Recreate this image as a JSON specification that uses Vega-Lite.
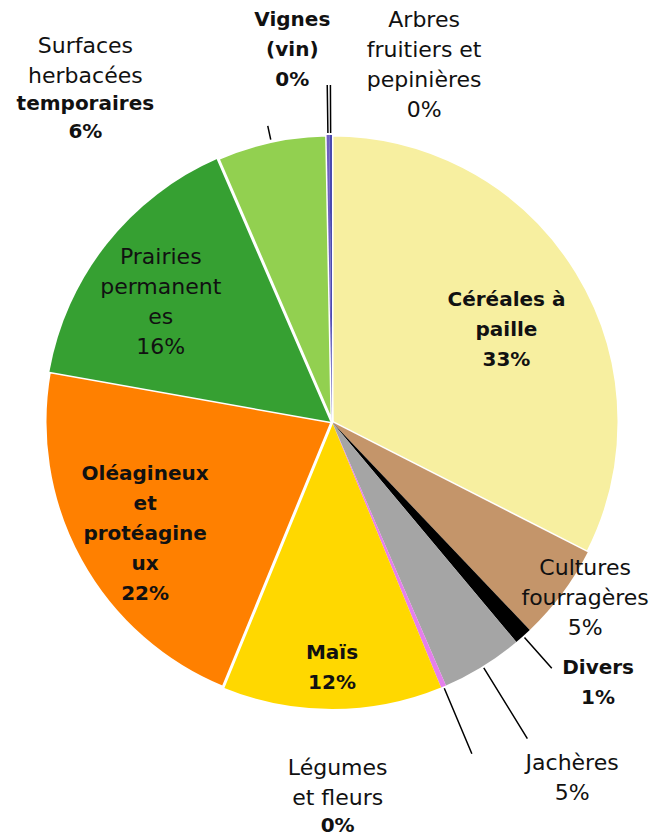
{
  "$schema": "https://vega.github.io/schema/vega-lite/v6.json",
  "width": 648,
  "height": 828,
  "autosize": "none",
  "padding": {"left": 8, "top": 8, "right": 0, "bottom": 0},
  "background": "white",
  "config": {"view": {"stroke": null}},
  "data": {
    "values": [
      {"rank": 1, "name": "Céréales à paille", "value": 32.5, "label": ["Céréales à", "paille", "33%"]},
      {"rank": 2, "name": "Cultures fourragères", "value": 5.4, "label": ["Cultures", "fourragères", "5%"]},
      {"rank": 3, "name": "Divers", "value": 1.0, "label": ["Divers", "1%"]},
      {"rank": 4, "name": "Jachères", "value": 4.6, "label": ["Jachères", "5%"]},
      {"rank": 5, "name": "Légumes et fleurs", "value": 0.3, "label": ["Légumes", "et fleurs"], "labelBold": ["0%"]},
      {"rank": 6, "name": "Maïs", "value": 12.4, "label": ["Maïs", "12%"]},
      {"rank": 7, "name": "Oléagineux et protéagineux", "value": 21.6, "label": ["Oléagineux", "et", "protéagine", "ux", "22%"]},
      {"rank": 8, "name": "Prairies permanentes", "value": 15.7, "label": ["Prairies", "permanent", "es", "16%"]},
      {"rank": 9, "name": "Surfaces herbacées temporaires", "value": 6.2, "label": ["Surfaces", "herbacées"], "labelBold": ["temporaires", "6%"]},
      {"rank": 10, "name": "Vignes (vin)", "value": 0.15, "label": ["Vignes", "(vin)", "0%"]},
      {"rank": 11, "name": "Arbres fruitiers et pepinières", "value": 0.15, "label": ["Arbres", "fruitiers et", "pepinières", "0%"]}
    ]
  },
  "encoding": {
    "theta": {"field": "value", "type": "quantitative", "stack": true},
    "order": {"field": "rank", "type": "quantitative"}
  },
  "layer": [
    {
      "mark": {"type": "arc", "outerRadius": 287, "stroke": "white"},
      "encoding": {
        "color": {
          "field": "name", "type": "nominal", "legend": null,
          "scale": {
            "domain": ["Céréales à paille", "Cultures fourragères", "Divers", "Jachères", "Légumes et fleurs", "Maïs", "Oléagineux et protéagineux", "Prairies permanentes", "Surfaces herbacées temporaires", "Vignes (vin)", "Arbres fruitiers et pepinières"],
            "range": ["#F7EFA0", "#C4956A", "#000000", "#A5A5A5", "#E57FEC", "#FFD800", "#FF8000", "#36A032", "#92D050", "#7060C0", "#4A4AB0"]
          }
        },
        "strokeWidth": {"condition": {"test": "datum.rank === 1 || datum.rank === 7 || datum.rank === 9", "value": 3}, "value": 0}
      }
    },
    {
      "mark": {"type": "arc", "innerRadius": 289, "outerRadius": 337, "padAngle": 3, "fillOpacity": 0, "stroke": "black", "strokeWidth": 1.5},
      "encoding": {"strokeOpacity": {"condition": {"test": "datum.rank >= 10", "value": 1}, "value": 0}}
    },
    {
      "mark": {"type": "arc", "innerRadius": 289, "outerRadius": 303, "padAngle": 3, "fillOpacity": 0, "stroke": "black", "strokeWidth": 1.5},
      "encoding": {"strokeOpacity": {"condition": {"test": "datum.rank === 9", "value": 1}, "value": 0}}
    },
    {
      "mark": {"type": "arc", "innerRadius": 289, "outerRadius": 330, "padAngle": 3, "fillOpacity": 0, "stroke": "black", "strokeWidth": 1.5},
      "encoding": {"strokeOpacity": {"condition": {"test": "datum.rank === 3", "value": 1}, "value": 0}}
    },
    {
      "mark": {"type": "arc", "innerRadius": 289, "outerRadius": 372, "padAngle": 3, "fillOpacity": 0, "stroke": "black", "strokeWidth": 1.5},
      "encoding": {"strokeOpacity": {"condition": {"test": "datum.rank === 4", "value": 1}, "value": 0}}
    },
    {
      "mark": {"type": "arc", "innerRadius": 289, "outerRadius": 360, "padAngle": 3, "fillOpacity": 0, "stroke": "black", "strokeWidth": 1.5},
      "encoding": {"strokeOpacity": {"condition": {"test": "datum.rank === 5", "value": 1}, "value": 0}}
    },
    {
      "mark": {"type": "text", "radius": 213, "font": "DejaVu Sans", "fontSize": 20, "fontWeight": "bold", "lineHeight": 30, "align": "center", "baseline": "middle", "color": "#111111"},
      "encoding": {
        "theta": {"field": "value", "type": "quantitative", "stack": true, "bandPosition": 0.47},
        "text": {"condition": {"test": "datum.rank === 1", "field": "label", "type": "nominal"}, "value": ""}
      }
    },
    {
      "mark": {"type": "text", "radius": 292, "font": "DejaVu Sans", "fontSize": 22, "lineHeight": 30, "align": "center", "baseline": "middle", "color": "#111111"},
      "encoding": {
        "theta": {"field": "value", "type": "quantitative", "stack": true, "bandPosition": 0.15},
        "text": {"condition": {"test": "datum.rank === 2", "field": "label", "type": "nominal"}, "value": ""}
      }
    },
    {
      "mark": {"type": "text", "radius": 362, "dx": 25, "dy": -24, "font": "DejaVu Sans", "fontSize": 20, "fontWeight": "bold", "lineHeight": 30, "align": "center", "baseline": "middle", "color": "#111111"},
      "encoding": {
        "text": {"condition": {"test": "datum.rank === 3", "field": "label", "type": "nominal"}, "value": ""}
      }
    },
    {
      "mark": {"type": "text", "radius": 417, "font": "DejaVu Sans", "fontSize": 22, "lineHeight": 30, "align": "center", "baseline": "middle", "color": "#111111"},
      "encoding": {
        "theta": {"field": "value", "type": "quantitative", "stack": true, "bandPosition": 0.29},
        "text": {"condition": {"test": "datum.rank === 4", "field": "label", "type": "nominal"}, "value": ""}
      }
    },
    {
      "mark": {"type": "text", "radius": 375, "dx": -140, "font": "DejaVu Sans", "fontSize": 22, "lineHeight": 30, "align": "center", "baseline": "middle", "color": "#111111"},
      "encoding": {
        "text": {"condition": {"test": "datum.rank === 5", "field": "label", "type": "nominal"}, "value": ""}
      }
    },
    {
      "mark": {"type": "text", "radius": 375, "dx": -140, "dy": 58, "font": "DejaVu Sans", "fontSize": 20, "fontWeight": "bold", "lineHeight": 30, "align": "center", "baseline": "middle", "color": "#111111"},
      "encoding": {
        "text": {"condition": {"test": "datum.rank === 5", "field": "labelBold", "type": "nominal"}, "value": ""}
      }
    },
    {
      "mark": {"type": "text", "radius": 231, "font": "DejaVu Sans", "fontSize": 20, "fontWeight": "bold", "lineHeight": 30, "align": "center", "baseline": "middle", "color": "#111111"},
      "encoding": {
        "text": {"condition": {"test": "datum.rank === 6", "field": "label", "type": "nominal"}, "value": ""}
      }
    },
    {
      "mark": {"type": "text", "radius": 194, "font": "DejaVu Sans", "fontSize": 20, "fontWeight": "bold", "lineHeight": 30, "align": "center", "baseline": "middle", "color": "#111111"},
      "encoding": {
        "theta": {"field": "value", "type": "quantitative", "stack": true, "bandPosition": 0.67},
        "text": {"condition": {"test": "datum.rank === 7", "field": "label", "type": "nominal"}, "value": ""}
      }
    },
    {
      "mark": {"type": "text", "radius": 238, "font": "DejaVu Sans", "fontSize": 22, "lineHeight": 30, "align": "center", "baseline": "middle", "color": "#111111"},
      "encoding": {
        "theta": {"field": "value", "type": "quantitative", "stack": true, "bandPosition": 0.6},
        "text": {"condition": {"test": "datum.rank === 8", "field": "label", "type": "nominal"}, "value": ""}
      }
    },
    {
      "mark": {"type": "text", "radius": 385, "dx": -165, "font": "DejaVu Sans", "fontSize": 22, "lineHeight": 30, "align": "center", "baseline": "middle", "color": "#111111"},
      "encoding": {
        "text": {"condition": {"test": "datum.rank === 9", "field": "label", "type": "nominal"}, "value": ""}
      }
    },
    {
      "mark": {"type": "text", "radius": 385, "dx": -165, "dy": 58, "font": "DejaVu Sans", "fontSize": 20, "fontWeight": "bold", "lineHeight": 28, "align": "center", "baseline": "middle", "color": "#111111"},
      "encoding": {
        "text": {"condition": {"test": "datum.rank === 9", "field": "labelBold", "type": "nominal"}, "value": ""}
      }
    },
    {
      "mark": {"type": "text", "radius": 402, "dx": -34, "font": "DejaVu Sans", "fontSize": 20, "fontWeight": "bold", "lineHeight": 30, "align": "center", "baseline": "middle", "color": "#111111"},
      "encoding": {
        "text": {"condition": {"test": "datum.rank === 10", "field": "label", "type": "nominal"}, "value": ""}
      }
    },
    {
      "mark": {"type": "text", "radius": 402, "dx": 94, "font": "DejaVu Sans", "fontSize": 22, "lineHeight": 30, "align": "center", "baseline": "middle", "color": "#111111"},
      "encoding": {
        "text": {"condition": {"test": "datum.rank === 11", "field": "label", "type": "nominal"}, "value": ""}
      }
    }
  ]
}
